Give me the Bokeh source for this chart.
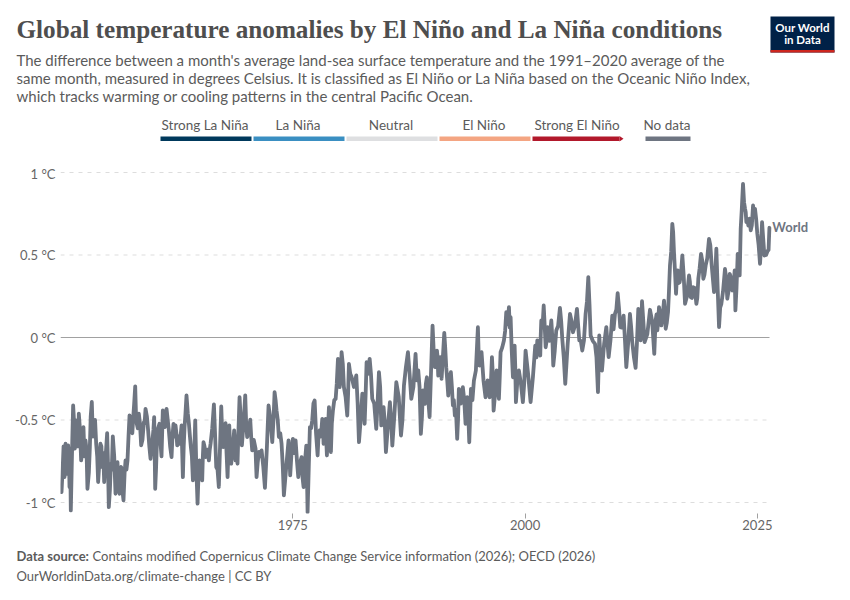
from bokeh.plotting import figure
from bokeh.layouts import column
from bokeh.models import Label, FixedTicker, Range1d
from bokeh.embed import file_html
from bokeh.resources import INLINE

TITLE = "Global temperature anomalies by El Niño and La Niña conditions"
SUBTITLE = [
    "The difference between a month's average land-sea surface temperature and the 1991–2020 average of the",
    "same month, measured in degrees Celsius. It is classified as El Niño or La Niña based on the Oceanic Niño Index,",
    "which tracks warming or cooling patterns in the central Pacific Ocean.",
]
LEGEND_LABELS = ["Strong La Niña", "La Niña", "Neutral", "El Niño", "Strong El Niño"]
LEGEND_COLORS = ["#00395c", "#3a8fc2", "#dedfe1", "#f4a582", "#b2182b"]
NO_DATA_LABEL = "No data"
LINE_COLOR = "#6e7581"
SERIES_NAME = "World"
Y_TICKS = [-1, -0.5, 0, 0.5, 1]
Y_LABELS = ["-1 °C", "-0.5 °C", "0 °C", "0.5 °C", "1 °C"]
X_TICKS = [1975, 2000, 2025]
X_START, X_END = 1950.0, 2026.3

# Peaks and troughs
YEARS = [
    1950.11, 1950.25, 1950.43, 1950.54, 1950.68, 1950.82, 1950.97, 1951.11, 1951.36, 1951.54, 1951.68, 1951.83,
    1951.97, 1952.22, 1952.47, 1952.69, 1952.90, 1953.16, 1953.37, 1953.59, 1953.84, 1954.05, 1954.30, 1954.48,
    1954.70, 1955.02, 1955.20, 1955.42, 1955.63, 1955.92, 1956.13, 1956.35, 1956.53, 1956.78, 1957.00, 1957.21,
    1957.43, 1957.64, 1957.82, 1958.04, 1958.21, 1958.43, 1958.68, 1958.97, 1959.15, 1959.43, 1959.69, 1960.08,
    1960.19, 1960.37, 1960.65, 1960.87, 1961.01, 1961.23, 1961.41, 1961.66, 1961.95, 1962.16, 1962.38,
    1962.56, 1962.81, 1963.03, 1963.17, 1963.35, 1963.56, 1963.82, 1964.03, 1964.25, 1964.50, 1964.75, 1964.96,
    1965.25, 1965.39, 1965.61, 1965.97, 1966.15, 1966.51, 1966.76, 1967.04, 1967.30, 1967.51, 1967.76, 1967.98,
    1968.16, 1968.37, 1968.69, 1968.84, 1969.05, 1969.27, 1969.52, 1969.88, 1970.09, 1970.42, 1970.63, 1970.99,
    1971.10, 1971.35, 1971.64, 1972.00, 1972.39, 1972.79, 1973.04, 1973.25, 1973.50, 1973.79, 1974.04, 1974.54,
    1974.72, 1975.01, 1975.30,
    1975.59, 1975.95, 1976.16, 1976.45, 1976.59, 1976.84, 1977.09, 1977.35, 1977.67, 1977.88, 1978.17, 1978.31,
    1978.53, 1978.67, 1978.89, 1979.10, 1979.32, 1979.61, 1979.86, 1980.04, 1980.25, 1980.50, 1980.86, 1981.04,
    1981.33, 1981.83, 1982.12, 1982.48, 1982.73, 1982.94, 1983.27, 1983.55, 1983.98, 1984.27, 1984.52, 1984.77,
    1985.02, 1985.45, 1985.71, 1986.14, 1986.64, 1986.96, 1987.39, 1987.75, 1988.21,
    1988.50, 1988.78, 1989.00, 1989.21, 1989.43, 1989.72, 1990.04, 1990.29, 1990.51, 1990.65, 1990.87, 1991.01,
    1991.30, 1991.51, 1991.73, 1992.01, 1992.23, 1992.44, 1992.69, 1992.87, 1993.30, 1993.59, 1993.77, 1993.99,
    1994.17, 1994.49, 1994.92, 1995.10, 1995.31, 1995.74, 1996.18, 1996.43, 1996.61, 1996.93, 1997.18, 1997.36,
    1997.72, 1997.97, 1998.26, 1998.44, 1998.69, 1998.87, 1999.01, 1999.33, 1999.76, 2000.05, 2000.59, 2001.09,
    2001.31, 2001.63, 2001.74, 2002.00, 2002.21, 2002.42, 2002.82, 2003.03, 2003.35, 2003.75, 2004.00, 2004.32,
    2004.83, 2005.15, 2005.58, 2005.83, 2006.15, 2006.51, 2006.80, 2007.05, 2007.52, 2007.84, 2007.98, 2008.27,
    2008.74, 2008.99, 2009.38, 2009.67, 2009.96, 2010.24, 2010.60, 2010.89, 2011.28, 2011.53, 2011.89, 2012.18,
    2012.43, 2012.58, 2012.86, 2013.44, 2013.90, 2014.05,
    2014.23, 2014.41, 2014.66, 2014.95, 2015.13, 2015.38, 2015.59, 2015.84, 2016.02, 2016.24, 2016.42, 2016.63,
    2016.92, 2017.21, 2017.64, 2017.82, 2018.07, 2018.43, 2018.64, 2018.93, 2019.18, 2019.43, 2019.79, 2020.08,
    2020.33, 2020.58, 2020.87, 2021.12, 2021.51, 2021.76, 2022.02, 2022.30, 2022.55, 2022.63, 2022.88, 2023.09,
    2023.20, 2023.45, 2023.67, 2023.81, 2024.02, 2024.28, 2024.53, 2024.74, 2024.99, 2025.28, 2025.50, 2025.75,
    2026.11, 2026.29,
]

ANOMALIES = [
    -0.937, -0.775, -0.846, -0.644, -0.826, -0.654, -0.906, -1.048, -0.412, -0.674, -0.502, -0.543,
    -0.462, -0.745, -0.543, -0.624, -0.917, -0.664, -0.391, -0.583, -0.644, -0.876, -0.644, -0.785,
    -0.876, -0.579, -1.028, -0.765, -0.599, -0.947, -0.755, -0.947, -0.785, -0.987, -0.745, -0.745,
    -0.472, -0.573, -0.492, -0.296, -0.523, -0.462, -0.654, -0.513, -0.432, -0.563, -0.735, -0.482,
    -0.917, -0.644, -0.523, -0.721, -0.442, -0.543, -0.432, -0.563, -0.725, -0.523, -0.533,
    -0.654, -0.644, -0.533, -0.846, -0.543, -0.351, -0.523, -0.664, -0.866, -0.502, -1.007, -0.745,
    -0.866, -0.634, -0.725, -0.745, -0.644, -0.405, -0.785, -0.906, -0.418, -0.664, -0.519, -0.846,
    -0.533, -0.765, -0.563, -0.745, -0.765, -0.361, -0.654, -0.351, -0.603, -0.498, -0.684, -0.674,
    -0.846, -0.694, -0.684, -0.911, -0.412, -0.634, -0.331, -0.442, -0.603, -0.644, -0.957, -0.624,
    -0.836, -0.614, -0.624,
    -0.846, -0.725, -0.907, -0.655, -1.059, -0.543, -0.503, -0.382, -0.715, -0.564, -0.493, -0.644,
    -0.493, -0.715, -0.422, -0.695, -0.442, -0.372, -0.129, -0.301, -0.089, -0.301, -0.473, -0.160,
    -0.240, -0.230, -0.634, -0.341, -0.523, -0.150, -0.129, -0.372, -0.554, -0.210, -0.533, -0.422,
    -0.695, -0.392, -0.655, -0.271, -0.594, -0.291, -0.089, -0.372, -0.099,
    -0.200, -0.584, -0.321, -0.402, -0.241, -0.483, 0.072, -0.180, -0.079, -0.231, -0.119, -0.251,
    0.028, -0.180, -0.352, -0.210, -0.412, -0.473, -0.614, -0.311, -0.301, -0.523, -0.362, -0.635,
    -0.311, -0.261, 0.062, -0.170, -0.089, -0.362, -0.362, -0.119, -0.443, -0.200, -0.372, -0.089,
    -0.018, 0.153, 0.184, 0.123, -0.241, -0.049, -0.392, -0.200, -0.392, -0.079, -0.392, -0.049,
    -0.018, -0.109, 0.103, 0.194, -0.059, 0.063, 0.103, -0.170, 0.042, 0.180, -0.008, -0.281,
    0.143, 0.032, 0.174, -0.018, -0.079, 0.143, 0.366, 0.012, -0.038, -0.331, 0.012, -0.200,
    0.063, -0.119, 0.133, 0.143, 0.269, 0.063, 0.133, -0.180, 0.143, -0.028, -0.184, 0.174,
    -0.018, 0.220, -0.028, 0.168, -0.099, 0.103,
    0.043, 0.184, 0.073, 0.224, 0.053, 0.154, 0.437, 0.689, 0.517, 0.265, 0.406, 0.335,
    0.497, 0.204, 0.376, 0.245, 0.305, 0.204, 0.356, 0.507, 0.356, 0.437, 0.598, 0.437,
    0.275, 0.538, 0.063, 0.204, 0.416, 0.235, 0.386, 0.285, 0.406, 0.164, 0.507, 0.376,
    0.659, 0.931, 0.780, 0.699, 0.679, 0.649, 0.800, 0.780, 0.628, 0.447, 0.699, 0.497,
    0.527, 0.665,
]

MID_YEARS = [
    1950.33, 1950.48, 1950.61, 1950.75, 1950.90, 1951.04, 1951.27, 1951.45, 1951.60, 1951.76, 1951.90, 1952.10,
    1952.35, 1952.58, 1952.80, 1953.05, 1953.25, 1953.48, 1953.72, 1953.95, 1954.18, 1954.40, 1954.60, 1954.86,
    1955.10, 1955.32, 1955.52, 1955.78, 1956.03, 1956.24, 1956.44, 1956.65, 1956.90, 1957.10, 1957.32, 1957.53,
    1957.73, 1957.93, 1958.12, 1958.32, 1958.55, 1958.82, 1959.05, 1959.30, 1959.56, 1959.90, 1960.00, 1960.28,
    1960.50, 1960.76, 1960.94, 1961.12, 1961.32, 1961.54, 1961.80, 1962.05, 1962.27,
    1962.47, 1962.70, 1962.92, 1963.10, 1963.26, 1963.45, 1963.70, 1963.93, 1964.14, 1964.38, 1964.62, 1964.86,
    1965.10, 1965.32, 1965.50, 1965.80, 1966.06, 1966.33, 1966.63, 1966.90, 1967.17, 1967.40, 1967.63, 1967.87,
    1968.07, 1968.27, 1968.53, 1968.77, 1968.95, 1969.16, 1969.40, 1969.70, 1969.98, 1970.25, 1970.52, 1970.80,
    1971.04, 1971.22, 1971.50, 1971.82, 1972.20, 1972.60, 1972.92, 1973.15, 1973.38, 1973.65, 1973.92, 1974.30,
    1974.63, 1974.86, 1975.15,
    1975.45, 1975.77, 1976.05, 1976.30, 1976.52, 1976.72, 1976.97, 1977.22, 1977.50, 1977.78, 1978.03, 1978.24,
    1978.42, 1978.60, 1978.78, 1979.00, 1979.20, 1979.46, 1979.73, 1979.95, 1980.15, 1980.38, 1980.68, 1980.95,
    1981.18, 1981.58, 1981.98, 1982.30, 1982.60, 1982.84, 1983.10, 1983.41, 1983.76, 1984.12, 1984.40, 1984.65,
    1984.90, 1985.23, 1985.58, 1985.92, 1986.40, 1986.80, 1987.17, 1987.57, 1987.98,
    1988.35, 1988.64, 1988.90, 1989.10, 1989.32, 1989.58, 1989.88, 1990.16, 1990.40, 1990.58, 1990.76, 1990.94,
    1991.15, 1991.40, 1991.62, 1991.87, 1992.12, 1992.33, 1992.56, 1992.78, 1993.08, 1993.45, 1993.68, 1993.88,
    1994.08, 1994.33, 1994.70, 1995.00, 1995.20, 1995.52, 1995.96, 1996.30, 1996.52, 1996.77, 1997.05, 1997.27,
    1997.54, 1997.85, 1998.12, 1998.35, 1998.56, 1998.78, 1998.94, 1999.17, 1999.55, 1999.90, 2000.32, 2000.84,
    2001.22, 2001.47, 2001.68, 2001.87, 2002.10, 2002.32, 2002.62, 2002.93, 2003.19, 2003.55, 2003.88, 2004.16,
    2004.58, 2004.99, 2005.36, 2005.70, 2005.99, 2006.33, 2006.66, 2006.93, 2007.28, 2007.68, 2007.91, 2008.13,
    2008.50, 2008.87, 2009.18, 2009.52, 2009.82, 2010.10, 2010.42, 2010.75, 2011.08, 2011.40, 2011.71, 2012.03,
    2012.30, 2012.50, 2012.72, 2013.15, 2013.67, 2013.97,
    2014.14, 2014.32, 2014.53, 2014.80, 2015.04, 2015.25, 2015.48, 2015.72, 2015.93, 2016.13, 2016.33, 2016.52,
    2016.77, 2017.06, 2017.42, 2017.73, 2017.95, 2018.25, 2018.53, 2018.78, 2019.05, 2019.30, 2019.60, 2019.93,
    2020.20, 2020.45, 2020.72, 2020.99, 2021.30, 2021.63, 2021.89, 2022.16, 2022.42, 2022.59, 2022.75, 2022.98,
    2023.14, 2023.32, 2023.56, 2023.74, 2023.92, 2024.15, 2024.40, 2024.63, 2024.86, 2025.13, 2025.39, 2025.62,
    2025.93, 2026.20,
]

MID_ANOMALIES = [
    -0.66, -0.82, -0.80, -0.66, -0.70, -0.72, -0.62, -0.50, -0.62, -0.64, -0.66, -0.56,
    -0.70, -0.72, -0.68, -0.82, -0.48, -0.60, -0.50, -0.72, -0.76, -0.66, -0.70, -0.72,
    -0.74, -0.92, -0.80, -0.72, -0.82, -0.88, -0.80, -0.92, -0.82, -0.80, -0.60, -0.50,
    -0.58, -0.40, -0.46, -0.55, -0.52, -0.62, -0.52, -0.48, -0.66, -0.62, -0.56, -0.80,
    -0.55, -0.64, -0.58, -0.52, -0.50, -0.50, -0.66, -0.60, -0.60,
    -0.58, -0.60, -0.60, -0.70, -0.66, -0.46, -0.46, -0.60, -0.72, -0.72, -0.80, -0.82,
    -0.80, -0.72, -0.66, -0.68, -0.68, -0.55, -0.58, -0.80, -0.66, -0.58, -0.60, -0.70,
    -0.68, -0.68, -0.68, -0.62, -0.68, -0.55, -0.50, -0.52, -0.52, -0.56, -0.60, -0.62,
    -0.76, -0.76, -0.72, -0.78, -0.68, -0.50, -0.50, -0.38, -0.50, -0.58, -0.78, -0.78,
    -0.70, -0.70, -0.70,
    -0.75, -0.76, -0.85, -0.76, -0.82, -0.78, -0.55, -0.40, -0.58, -0.58, -0.60, -0.52,
    -0.58, -0.62, -0.56, -0.60, -0.52, -0.38, -0.28, -0.20, -0.26, -0.16, -0.36, -0.34,
    -0.22, -0.30, -0.40, -0.50, -0.40, -0.34, -0.22, -0.22, -0.40, -0.40, -0.30, -0.46,
    -0.52, -0.54, -0.50, -0.48, -0.36, -0.50, -0.18, -0.22, -0.30,
    -0.26, -0.30, -0.48, -0.40, -0.28, -0.38, -0.20, -0.08, -0.18, -0.12, -0.20, -0.16,
    -0.12, -0.06, -0.26, -0.24, -0.30, -0.38, -0.44, -0.50, -0.40, -0.38, -0.46, -0.46,
    -0.48, -0.38, -0.20, -0.10, -0.12, -0.26, -0.26, -0.30, -0.22, -0.34, -0.30, -0.24,
    -0.06, 0.04, 0.08, 0.06, -0.08, -0.18, -0.18, -0.26, -0.28, -0.28, -0.22, -0.24,
    -0.12, -0.07, 0.01, 0.06, 0.08, -0.02, -0.02, 0.00, -0.08, 0.07, 0.10, -0.12,
    -0.04, 0.10, 0.07, 0.08, -0.02, -0.02, 0.22, 0.20, -0.02, -0.12, -0.18, -0.14,
    -0.04, -0.04, -0.02, 0.05, 0.17, 0.18, 0.06, -0.02, -0.04, 0.07, -0.12, -0.04,
    0.08, 0.08, 0.10, 0.02, 0.10, 0.00,
    0.14, 0.10, 0.14, 0.13, 0.15, 0.09, 0.28, 0.52, 0.64, 0.40, 0.36, 0.33,
    0.38, 0.38, 0.25, 0.34, 0.24, 0.30, 0.24, 0.42, 0.47, 0.38, 0.48, 0.56,
    0.36, 0.36, 0.30, 0.18, 0.28, 0.36, 0.28, 0.36, 0.30, 0.28, 0.30, 0.44,
    0.50, 0.78, 0.82, 0.76, 0.72, 0.72, 0.68, 0.74, 0.72, 0.56, 0.55, 0.60,
    0.50, 0.53,
]

W = 850
TEXT = "#5b5b5b"
SANS = "Lato"
HEADER_H, MAIN_H, FOOTER_H = 165, 380, 55

PX_PER_YEAR = 709 / (X_END - X_START)
PX_PER_UNIT = 165.0


def band(y_top, y_bottom):
    """A strip of the page whose data coordinates are page pixels."""
    f = figure(
        width=W, height=y_bottom - y_top, output_backend="svg", toolbar_location=None,
        x_range=Range1d(0, W), y_range=Range1d(y_bottom, y_top),
        x_axis_location=None, y_axis_location=None, min_border=0, frame_align=False,
        outline_line_color=None, background_fill_color="white", border_fill_color="white",
    )
    f.grid.visible = False
    return f


def text(f, txt, px, py, size="13px", color=TEXT, font=SANS, style="normal", align="left"):
    f.add_layout(Label(
        x=px, y=py, text=txt, text_font=font, text_font_size=size, text_color=color,
        text_font_style=style, text_align=align, text_baseline="middle",
    ))


def bar(f, x0, x1, y0, y1, color):
    f.quad(left=[x0], right=[x1], top=[y0], bottom=[y1], fill_color=color, line_color=None)


# header
head = band(0, HEADER_H)
text(head, TITLE, 16, 29, size="25.2px", color="#4e4e4e", font="Liberation Serif", style="bold")
for i, line in enumerate(SUBTITLE):
    text(head, line, 16, 59 + 18 * i, size="15px")
for i, (label, color) in enumerate(zip(LEGEND_LABELS, LEGEND_COLORS)):
    x0 = 160 + 93 * i
    text(head, label, x0 + 44.5, 124, size="13.5px", align="center")
    bar(head, x0, x0 + (87 if i == 4 else 91), 136, 140.5, color)
head.patch([619, 623, 619], [135.5, 138.2, 141], fill_color=LEGEND_COLORS[4], line_color=None)
text(head, NO_DATA_LABEL, 643, 124, size="13.5px")
bar(head, 645, 690, 136, 140.5, LINE_COLOR)
bar(head, 770, 834, 16, 52, "#002147")
bar(head, 770, 834, 49.5, 52, "#ce261e")
text(head, "Our World", 802, 27, size="11.5px", color="white", style="bold", align="center")
text(head, "in Data", 802, 39, size="11.5px", color="white", style="bold", align="center")

# chart: frame from the first year to the right edge of the page, so the series label fits
p = figure(
    width=W, height=MAIN_H, output_backend="svg", toolbar_location=None,
    x_range=Range1d(X_START, X_START + 790 / PX_PER_YEAR),
    y_range=Range1d(-176 / PX_PER_UNIT, 172 / PX_PER_UNIT),
    min_border_left=60, min_border_right=0, min_border_top=0, min_border_bottom=32, frame_align=False,
    outline_line_color=None, background_fill_color="white", border_fill_color="white",
)
p.xaxis.ticker = FixedTicker(ticks=X_TICKS)
p.xaxis.axis_line_color = None
p.xaxis.major_tick_line_color = "#a1a1a1"
p.xaxis.major_tick_in = 0
p.xaxis.major_tick_out = 5
p.xaxis.minor_tick_line_color = None
p.xaxis.major_label_text_font = SANS
p.xaxis.major_label_text_font_size = "13px"
p.xaxis.major_label_text_color = "#666666"
p.xaxis.major_label_standoff = 1
p.yaxis.ticker = FixedTicker(ticks=Y_TICKS)
p.yaxis.major_label_overrides = dict(zip(Y_TICKS, Y_LABELS))
p.yaxis.axis_line_color = None
p.yaxis.major_tick_line_color = None
p.yaxis.major_tick_in = 0
p.yaxis.major_tick_out = 0
p.yaxis.minor_tick_line_color = None
p.yaxis.major_label_text_font = SANS
p.yaxis.major_label_text_font_size = "13px"
p.yaxis.major_label_text_color = "#666666"
p.yaxis.major_label_standoff = 5
p.grid.visible = False

for t in Y_TICKS:
    if t == 0:
        p.line([X_START, X_END], [t, t], line_color="#a1a1a1", line_width=1)
    else:
        p.line([X_START, X_END], [t, t], line_color="#dddddd", line_width=1, line_dash=[4, 5])

series = sorted(zip(YEARS + MID_YEARS, ANOMALIES + MID_ANOMALIES))
p.line([s[0] for s in series], [s[1] for s in series], line_color=LINE_COLOR, line_width=3.8,
       line_join="round", line_cap="round")
p.add_layout(Label(
    x=2026.6, y=0.667, text=SERIES_NAME, text_font=SANS, text_font_size="13px",
    text_font_style="bold", text_color=LINE_COLOR, text_baseline="middle",
))

# footer
foot = band(HEADER_H + MAIN_H, HEADER_H + MAIN_H + FOOTER_H)
text(foot, "Data source:", 16, 555, style="bold")
text(foot, "Contains modified Copernicus Climate Change Service information (2026); OECD (2026)", 92, 555)
text(foot, "OurWorldinData.org/climate-change | CC BY", 16, 575)

page = column(head, p, foot, spacing=0)
open("out.html", "w").write(file_html(page, INLINE))
